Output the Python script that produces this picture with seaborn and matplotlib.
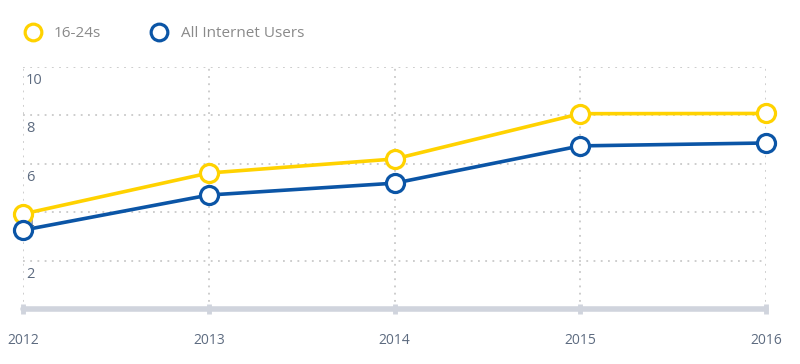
import pandas as pd
import seaborn as sns
from matplotlib import pyplot as plt
from matplotlib.lines import Line2D

# values
years = [2012, 2013, 2014, 2015, 2016]
young = [3.93, 5.62, 6.2, 8.07, 8.08]        # 16-24s
all_users = [3.26, 4.71, 5.2, 6.74, 6.86]    # All Internet Users
series_names = ["16-24s", "All Internet Users"]
colors = ["#FFD200", "#0B55A6"]
y_ticks = [2, 4, 6, 8, 10]

df = pd.DataFrame({
    "year": years * 2,
    "value": young + all_users,
    "series": [series_names[0]] * len(years) + [series_names[1]] * len(years),
})

sns.set_style("white")
plt.rcParams["font.family"] = ["Open Sans", "DejaVu Sans"]

fig = plt.figure(figsize=(8, 3.64), dpi=100)
ax = fig.add_axes([0.029, 0.151, 0.9285, 0.665])

sns.lineplot(data=df, x="year", y="value", hue="series", palette=colors,
             hue_order=series_names, linewidth=2.6, marker="o", markersize=13,
             markerfacecolor="white", markeredgewidth=2.3, legend=False,
             ax=ax, zorder=5, clip_on=False)
for ln, c in zip(ax.lines, colors):
    ln.set_markeredgecolor(c)
    ln.set_clip_on(False)

ax.set_xlim(2012, 2016)
ax.set_ylim(0, 10)
ax.set_xticks(years)
ax.set_xticklabels([str(y) for y in years])
ax.set_yticks(y_ticks)
ax.set_yticklabels([])
for t in y_ticks:
    ax.text(2012.015, t - 0.25, str(t), ha="left", va="top", fontsize=10.5,
            color="#5d6b80", zorder=2)

ax.grid(True, color="#c9c9c9", linestyle=(0, (1, 3)), linewidth=1.3)
ax.set_axisbelow(True)
for s in ["top", "right", "left"]:
    ax.spines[s].set_visible(False)
ax.spines["bottom"].set_color("#d0d4dd")
ax.spines["bottom"].set_linewidth(4)
ax.spines["bottom"].set_capstyle("round")
ax.tick_params(axis="x", bottom=True, direction="inout", length=7, width=3.5,
               color="#d0d4dd", labelsize=10, labelcolor="#5d6b80", pad=14)
ax.tick_params(axis="y", length=0)
ax.set_xlabel("")
ax.set_ylabel("")

handles = [Line2D([], [], linestyle="", marker="o", markersize=12,
                  markerfacecolor="white", markeredgecolor=c, markeredgewidth=2.3)
           for c in colors]
fig.legend(handles, series_names, loc="upper left", bbox_to_anchor=(0.012, 0.965),
           ncol=2, frameon=False, fontsize=11, labelcolor="#8a8a8a",
           handletextpad=0.8, columnspacing=3.2, handlelength=1.2)

fig.savefig("out.png", dpi=100, facecolor="white")
